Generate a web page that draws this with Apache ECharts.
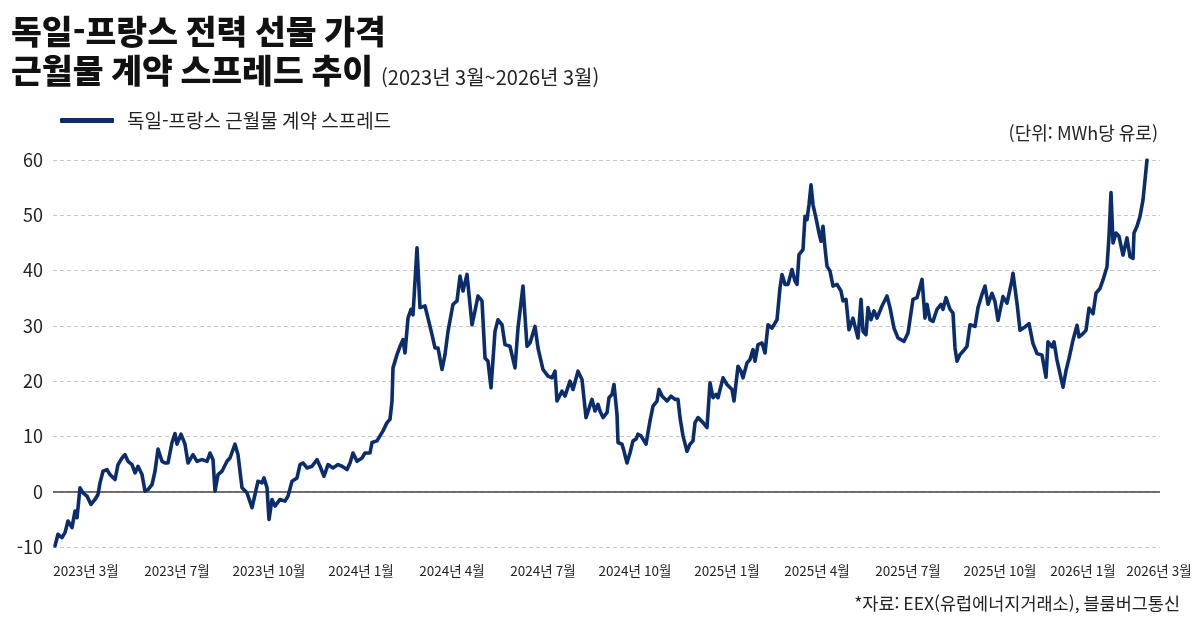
<!DOCTYPE html>
<html lang="ko">
<head>
<meta charset="utf-8">
<title>독일-프랑스 근월물 계약 스프레드 추이</title>
<style>
  html, body { margin: 0; padding: 0; background: #fff; }
  #main { width: 1200px; height: 620px; }
</style>
</head>
<body>
<div id="main"></div>
<script src="https://cdn.jsdelivr.net/npm/echarts@6/dist/echarts.min.js"></script>
<script>
  // 2023-03-01 기준 경과일수
  var dayIndex = [
    0, 3, 7, 10, 13, 17, 20, 22, 25, 28, 32, 36, 40, 43, 45, 48, 52, 55, 60, 63,
    67, 70, 73, 77, 80, 83, 87, 90, 93, 97, 100, 103, 107, 110, 113, 117, 120, 122, 126, 130,
    133, 138, 142, 147, 152, 155, 158, 160, 163, 167, 172,
    175, 180, 183, 187, 192, 197, 200, 203, 207, 209, 212, 214, 217, 220, 225, 230, 233, 237, 242, 245,
    248, 252, 257, 262, 265, 269, 273, 278, 283, 287, 292, 295, 298, 302, 307, 310, 315, 317, 322, 325,
    328, 332, 335, 337, 338, 342, 345, 348, 350, 353, 356, 358, 362,
    365, 370, 373, 377, 380, 383, 387, 390, 393, 398, 402, 405, 408, 412, 417, 420, 423, 427, 430, 433,
    436, 440, 443, 447, 450, 455, 460, 463, 468, 472, 475, 480, 483, 488, 493, 497, 500, 502, 507, 510,
    515, 518, 523, 527, 531, 537, 540, 543,
    545, 548, 552, 554, 557, 559, 562, 563, 567, 569, 572, 575, 578, 581, 583, 586, 588, 591, 595, 598,
    602, 604, 607, 612, 616, 620, 623, 625, 628, 632, 635, 638, 640, 643, 648, 652, 655, 658, 661, 663,
    668, 672, 677, 679, 683, 686, 688, 692, 695, 698, 700, 703, 707, 710, 713, 717, 722, 725, 727, 730,
    733,
    737, 740, 742, 744, 748, 750, 752, 754, 756, 758, 761, 764, 766, 768, 770, 772, 775, 778, 782, 786,
    788, 791, 794, 798, 800, 803, 806, 808, 811, 813, 816, 819, 822, 827, 832, 835, 839, 843, 849, 853,
    858, 862, 867, 870, 872, 875, 878, 882, 886, 888, 891, 895, 898, 900, 902, 905, 908, 912, 915, 920,
    923, 927, 930, 933,
    937, 940, 943, 948, 952, 957, 958, 962, 965, 970, 974, 978, 982, 987, 991, 993, 997, 999, 1002, 1008,
    1011, 1014, 1018, 1022, 1024, 1028, 1031, 1034, 1038, 1041, 1045, 1048, 1052, 1054, 1056, 1058, 1061, 1064, 1068, 1072,
    1075, 1078, 1079, 1082, 1085, 1088, 1092
  ];

  // 독일-프랑스 근월물 계약 스프레드 (MWh당 유로)
  var spread = [
    -9.8, -7.7, -8.3, -7.4, -5.3, -6.5, -3.5, -4.7, 0.7, -0.2, -0.8, -2.3, -1.4, -0.5, 1.6, 3.7, 4.0, 3.1, 2.2, 4.9,
    6.1, 6.7, 5.5, 4.9, 3.4, 4.6, 3.1, 0.1, 0.4, 1.3, 3.7, 7.7, 5.5, 5.2, 5.2, 8.9, 10.5, 8.6, 10.4, 8.6,
    5.2, 6.7, 5.5, 5.8, 5.5, 7.0, 5.8, 0.1, 3.1, 3.7, 5.5,
    6.1, 8.6, 6.7, 0.7, -0.2, -2.9, -0.5, 1.9, 1.6, 2.5, 0.7, -5.0, -1.4, -2.6, -1.4, -1.7, -0.8, 1.9, 2.5, 4.9,
    5.2, 4.3, 4.6, 5.8, 4.6, 2.8, 4.9, 4.3, 4.9, 4.6, 4.0, 5.2, 7.0, 5.5, 6.1, 7.0, 7.0, 8.9, 9.2, 10.1,
    11.0, 12.5, 13.1, 16.4, 22.4, 24.8, 26.3, 27.5, 25.1, 31.4, 33.0, 32.0, 44.1,
    33.3, 33.6, 31.4, 28.4, 26.0, 26.0, 22.1, 24.8, 29.0, 33.9, 34.5, 39.0, 36.3, 39.3, 30.2, 32.7, 35.4, 34.5, 24.2, 23.6,
    18.8, 29.0, 31.1, 30.2, 26.6, 26.3, 22.4, 29.6, 37.2, 26.3, 26.9, 29.9, 26.0, 22.1, 20.9, 20.6, 21.8, 16.4, 18.2, 17.3,
    20.0, 18.5, 21.8, 20.3, 13.4, 16.7, 14.6, 15.8,
    14.6, 13.4, 14.3, 17.0, 17.6, 19.4, 14.0, 8.9, 8.6, 7.3, 5.2, 7.0, 9.2, 9.5, 10.4, 10.1, 10.4, 8.6, 12.8, 15.5,
    16.4, 18.5, 17.3, 16.4, 17.3, 16.7, 16.7, 13.4, 10.1, 7.3, 8.6, 9.2, 12.5, 13.4, 12.5, 11.6, 19.7, 17.0, 17.6, 17.0,
    20.6, 19.4, 18.5, 16.4, 22.7, 21.8, 20.6, 23.3, 23.9, 25.7, 23.6, 26.6, 26.9, 25.1, 30.2, 29.6, 31.1, 36.9, 39.3, 37.5,
    37.5,
    40.2, 38.1, 37.5, 42.9, 43.8, 49.8, 49.2, 51.9, 55.5, 51.9, 49.5, 46.8, 45.3, 48.0, 44.1, 40.8, 39.9, 37.2, 37.5, 36.3,
    34.5, 34.8, 29.3, 31.4, 29.9, 27.8, 34.8, 29.0, 28.4, 33.3, 31.1, 32.7, 31.4, 33.6, 35.4, 33.3, 29.6, 27.8, 27.2, 28.7,
    34.8, 35.1, 38.4, 31.4, 33.9, 31.1, 30.8, 33.0, 33.9, 33.0, 35.1, 33.0, 32.3, 26.0, 23.6, 24.8, 25.4, 26.3, 30.2, 29.9,
    33.3, 35.7, 37.2, 33.9,
    35.9, 34.4, 31.0, 35.3, 34.1, 38.3, 39.5, 34.1, 29.2, 29.8, 30.4, 26.8, 25.0, 24.7, 20.7, 27.1, 26.2, 27.1, 23.8, 18.9,
    21.9, 24.1, 27.4, 30.1, 28.0, 28.6, 29.2, 33.2, 32.2, 35.9, 36.8, 38.3, 40.7, 46.2, 54.1, 45.0, 46.8, 46.2, 42.8, 45.9,
    42.5, 42.2, 46.8, 48.0, 49.8, 52.8, 60.0
  ];

  // x축 눈금 (경과일수 / 표시 문구)
  var tickDays = [31, 122, 214, 306, 397, 488, 580, 672, 762, 853, 945, 1028, 1104];
  var tickLabels = [
    '2023년 3월', '2023년 7월', '2023년 10월', '2024년 1월', '2024년 4월', '2024년 7월',
    '2024년 10월', '2025년 1월', '2025년 4월', '2025년 7월', '2025년 10월', '2026년 1월', '2026년 3월'
  ];

  var seriesName = '독일-프랑스 근월물 계약 스프레드';
  var FONT = '"Noto Sans CJK KR", "Noto Sans", sans-serif';
  var NAVY = '#0b2d6c';

  var seriesData = dayIndex.map(function (d, i) {
    return [d, spread[i]];
  });

  var myChart = echarts.init(document.getElementById('main'));

  var option = {
    backgroundColor: '#fff',
    animation: false,
    title: {
      left: 11,
      top: 12,
      padding: 0,
      text: '{a|독일-프랑스 전력 선물 가격}\n{a|근월물 계약 스프레드 추이}{b|(2023년 3월~2026년 3월)}',
      textStyle: {
        rich: {
          a: { fontFamily: FONT, fontSize: 33.5, fontWeight: 900, color: '#111', lineHeight: 39 },
          b: { fontFamily: FONT, fontSize: 20, fontWeight: 'normal', color: '#222', lineHeight: 39, verticalAlign: 'bottom', padding: [0, 0, 3, 8] }
        }
      }
    },
    legend: {
      left: 60,
      top: 111,
      padding: 0,
      itemWidth: 54,
      itemHeight: 5,
      textStyle: { fontFamily: FONT, fontSize: 19, color: '#222', padding: [0, 0, 0, 8] },
      data: [{ name: seriesName, icon: 'roundRect' }]
    },
    graphic: [
      {
        type: 'text',
        right: 42,
        top: 124,
        style: { text: '(단위: MWh당 유로)', fontFamily: FONT, fontSize: 18, fill: '#222' }
      },
      {
        type: 'text',
        right: 20,
        top: 595,
        style: { text: '*자료: EEX(유럽에너지거래소), 블룸버그통신', fontFamily: FONT, fontSize: 17.5, fill: '#222' }
      }
    ],
    grid: {
      left: 53,
      right: 40,
      top: 160,
      bottom: 73,
      containLabel: false,
      outerBoundsMode: 'none'
    },
    xAxis: {
      type: 'value',
      min: -2,
      max: 1105,
      axisLine: { show: false },
      axisTick: { show: false },
      splitLine: { show: false },
      axisLabel: {
        customValues: tickDays,
        margin: 17,
        fontFamily: FONT,
        fontSize: 13.5,
        color: '#222',
        formatter: function (v) {
          var i = tickDays.indexOf(v);
          return i >= 0 ? tickLabels[i] : '';
        }
      }
    },
    yAxis: {
      type: 'value',
      min: -10,
      max: 60,
      interval: 10,
      axisLine: { show: false },
      axisTick: { show: false },
      axisLabel: { margin: 10, fontFamily: FONT, fontSize: 18, color: '#222' },
      splitLine: { lineStyle: { color: '#c8c8c8', type: [4, 3], width: 1 } }
    },
    series: [{
      name: seriesName,
      type: 'line',
      data: seriesData,
      showSymbol: false,
      symbol: 'none',
      color: NAVY,
      lineStyle: { color: NAVY, width: 3.6, join: 'round', cap: 'round' },
      z: 3,
      markLine: {
        silent: true,
        symbol: 'none',
        label: { show: false },
        lineStyle: { color: '#444', width: 1.5, type: 'solid' },
        data: [{ yAxis: 0 }],
        z: 2
      }
    }]
  };

  myChart.setOption(option);
</script>
</body>
</html>
